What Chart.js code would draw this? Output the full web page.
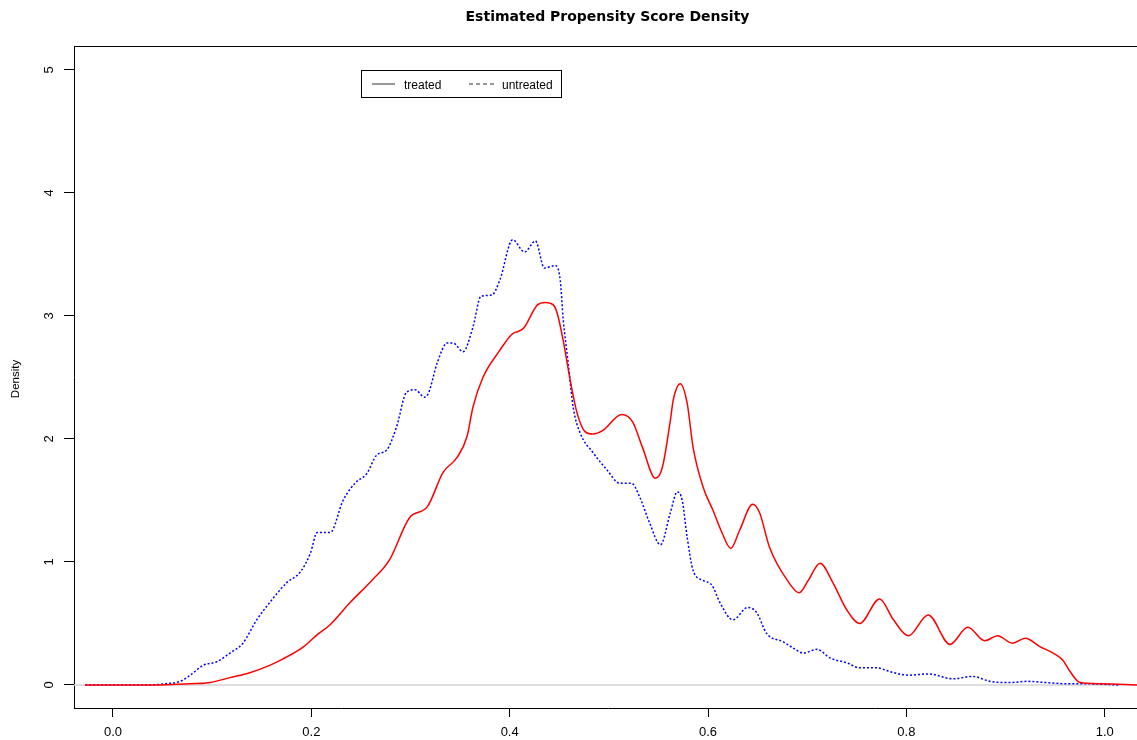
<!DOCTYPE html>
<html>
<head>
<meta charset="utf-8">
<script src="https://cdn.jsdelivr.net/npm/chart.js@4/dist/chart.umd.min.js"></script>
<style>
  html, body { margin: 0; padding: 0; background: #fff; overflow: hidden; width: 1137px; height: 740px; }
  canvas { display: block; }
</style>
</head>
<body>
<canvas id="c" width="1145" height="740"></canvas>
<script>
// Kernel density estimates of the propensity score, by group
const treatedX = [-0.028, 0.037, 0.078, 0.098, 0.118, 0.138, 0.158, 0.171, 0.192, 0.206, 0.219, 0.239, 0.261, 0.279, 0.299, 0.317, 0.333, 0.347, 0.357, 0.363, 0.373, 0.390, 0.402, 0.414, 0.428, 0.436, 0.444, 0.448, 0.454, 0.461, 0.468, 0.476, 0.484, 0.494, 0.513, 0.524, 0.534, 0.547, 0.554, 0.562, 0.565, 0.572, 0.579, 0.585, 0.595, 0.605, 0.614, 0.623, 0.632, 0.645, 0.652, 0.662, 0.680, 0.692, 0.701, 0.713, 0.726, 0.740, 0.753, 0.773, 0.787, 0.802, 0.822, 0.844, 0.862, 0.879, 0.892, 0.907, 0.920, 0.935, 0.948, 0.958, 0.965, 0.975, 0.995, 1.035];
const treatedY = [0, 0, 0.01, 0.02, 0.06, 0.10, 0.16, 0.21, 0.31, 0.41, 0.49, 0.67, 0.85, 1.02, 1.36, 1.45, 1.73, 1.85, 2.02, 2.26, 2.50, 2.72, 2.85, 2.90, 3.09, 3.11, 3.09, 3.02, 2.80, 2.48, 2.21, 2.06, 2.04, 2.07, 2.20, 2.14, 1.93, 1.68, 1.77, 2.15, 2.32, 2.45, 2.29, 1.93, 1.61, 1.42, 1.24, 1.11, 1.26, 1.47, 1.40, 1.12, 0.85, 0.75, 0.85, 0.99, 0.83, 0.61, 0.50, 0.70, 0.53, 0.40, 0.57, 0.33, 0.47, 0.36, 0.40, 0.34, 0.38, 0.31, 0.26, 0.20, 0.11, 0.02, 0.01, 0];

const untreatedX = [-0.028, 0.017, 0.037, 0.052, 0.068, 0.078, 0.091, 0.105, 0.118, 0.131, 0.145, 0.158, 0.175, 0.189, 0.199, 0.206, 0.219, 0.232, 0.244, 0.256, 0.266, 0.276, 0.286, 0.296, 0.305, 0.314, 0.318, 0.327, 0.337, 0.343, 0.353, 0.363, 0.371, 0.382, 0.390, 0.403, 0.415, 0.426, 0.435, 0.446, 0.451, 0.454, 0.459, 0.464, 0.471, 0.484, 0.498, 0.511, 0.523, 0.531, 0.541, 0.552, 0.562, 0.569, 0.574, 0.579, 0.585, 0.595, 0.604, 0.612, 0.625, 0.640, 0.649, 0.659, 0.676, 0.686, 0.696, 0.710, 0.723, 0.740, 0.753, 0.770, 0.783, 0.802, 0.822, 0.847, 0.867, 0.884, 0.905, 0.922, 0.940, 0.962, 0.978, 1.015];
const untreatedY = [0, 0, 0, 0.01, 0.03, 0.08, 0.16, 0.19, 0.26, 0.34, 0.53, 0.67, 0.83, 0.92, 1.07, 1.24, 1.24, 1.50, 1.64, 1.72, 1.87, 1.91, 2.10, 2.38, 2.40, 2.34, 2.37, 2.62, 2.78, 2.78, 2.71, 2.91, 3.16, 3.17, 3.29, 3.62, 3.52, 3.61, 3.39, 3.41, 3.29, 2.97, 2.62, 2.26, 2.05, 1.89, 1.75, 1.64, 1.64, 1.53, 1.32, 1.14, 1.40, 1.57, 1.50, 1.20, 0.93, 0.85, 0.81, 0.67, 0.53, 0.63, 0.59, 0.42, 0.35, 0.30, 0.26, 0.29, 0.22, 0.18, 0.14, 0.14, 0.11, 0.08, 0.09, 0.05, 0.07, 0.03, 0.02, 0.03, 0.02, 0.01, 0.01, 0];

const xTickValues = [0.0, 0.2, 0.4, 0.6, 0.8, 1.0];
const xTickLabels = ["0.0", "0.2", "0.4", "0.6", "0.8", "1.0"];
const yTickValues = [0, 1, 2, 3, 4, 5];
const yTickLabels = ["0", "1", "2", "3", "4", "5"];

const titleText = "Estimated Propensity Score Density";
const yTitleText = "Density";
const legendLabels = ["treated", "untreated"];

const FONT = '"Liberation Sans", Arial, sans-serif';
const TITLE_FONT = 'bold 14px "DejaVu Sans", Verdana, sans-serif';

const toPoints = (xs, ys) => xs.map((x, i) => ({ x: x, y: ys[i] }));

const decorations = {
  id: 'decorations',
  beforeDatasetsDraw(chart) {
    const { ctx, chartArea, scales } = chart;
    const y0 = scales.y.getPixelForValue(0);
    ctx.save();
    ctx.strokeStyle = '#d3d3d3';
    ctx.lineWidth = 1.5;
    ctx.beginPath();
    ctx.moveTo(chartArea.left, y0);
    ctx.lineTo(chartArea.right, y0);
    ctx.stroke();
    ctx.restore();
  },
  afterDraw(chart) {
    const { ctx, chartArea, scales } = chart;
    ctx.save();
    // top edge of the plot box
    ctx.strokeStyle = '#000';
    ctx.lineWidth = 1;
    ctx.beginPath();
    ctx.moveTo(chartArea.left, chartArea.top + 0.5);
    ctx.lineTo(chartArea.right, chartArea.top + 0.5);
    ctx.stroke();

    // title
    ctx.fillStyle = '#000';
    ctx.font = TITLE_FONT;
    ctx.textAlign = 'center';
    ctx.textBaseline = 'middle';
    ctx.fillText(titleText, 607.5, 17);

    // y tick labels, rotated as in base graphics
    ctx.font = '13px ' + FONT;
    yTickValues.forEach((v, i) => {
      const py = scales.y.getPixelForValue(v);
      ctx.save();
      ctx.translate(49, py);
      ctx.rotate(-Math.PI / 2);
      ctx.fillText(yTickLabels[i], 0, 0);
      ctx.restore();
    });

    // y axis title
    ctx.save();
    ctx.translate(16, 379);
    ctx.rotate(-Math.PI / 2);
    ctx.font = '11.5px ' + FONT;
    ctx.fillText(yTitleText, 0, 0);
    ctx.restore();

    // legend
    const lx = 361.5, ly = 70.5, lw = 200, lh = 27;
    ctx.fillStyle = '#fff';
    ctx.fillRect(lx, ly, lw, lh);
    ctx.strokeStyle = '#000';
    ctx.lineWidth = 1;
    ctx.strokeRect(lx, ly, lw, lh);
    const cy = ly + lh / 2;
    ctx.strokeStyle = '#333';
    ctx.beginPath();
    ctx.moveTo(372, cy); ctx.lineTo(395, cy);
    ctx.stroke();
    ctx.setLineDash([4, 3]);
    ctx.beginPath();
    ctx.moveTo(469, cy); ctx.lineTo(495, cy);
    ctx.stroke();
    ctx.setLineDash([]);
    ctx.fillStyle = '#000';
    ctx.font = '12px ' + FONT;
    ctx.textAlign = 'left';
    ctx.textBaseline = 'middle';
    ctx.fillText(legendLabels[0], 404, cy + 1.5);
    ctx.fillText(legendLabels[1], 502, cy + 1.5);
    ctx.restore();
  }
};

new Chart(document.getElementById('c'), {
  type: 'line',
  data: {
    datasets: [
      {
        label: legendLabels[0],
        data: toPoints(treatedX, treatedY),
        borderColor: '#ff0000',
        borderWidth: 1.5,
        pointRadius: 0,
        fill: false,
        cubicInterpolationMode: 'monotone'
      },
      {
        label: legendLabels[1],
        data: toPoints(untreatedX, untreatedY),
        borderColor: '#0000ff',
        borderWidth: 1.5,
        borderDash: [2, 2],
        pointRadius: 0,
        fill: false,
        cubicInterpolationMode: 'monotone'
      }
    ]
  },
  options: {
    responsive: false,
    animation: false,
    devicePixelRatio: 1,
    layout: { padding: { left: 0, top: 46, right: 3, bottom: 0 } },
    plugins: {
      legend: { display: false },
      title: { display: false },
      tooltip: { enabled: false }
    },
    scales: {
      x: {
        type: 'linear',
        min: -0.0393,
        max: 1.0376,
        afterBuildTicks(scale) { scale.ticks = xTickValues.map(v => ({ value: v })); },
        afterFit(scale) { scale.height = 32; },
        grid: { drawOnChartArea: false, drawTicks: true, tickLength: 9, tickColor: '#000', tickWidth: 1 },
        border: { display: true, color: '#000', width: 1 },
        ticks: {
          color: '#000',
          font: { family: FONT, size: 13 },
          padding: 8,
          maxRotation: 0,
          autoSkip: false,
          callback: (v) => xTickLabels[xTickValues.indexOf(v)]
        }
      },
      y: {
        type: 'linear',
        min: -0.187,
        max: 5.195,
        afterBuildTicks(scale) { scale.ticks = yTickValues.map(v => ({ value: v })); },
        afterFit(scale) { scale.width = 74; },
        grid: { drawOnChartArea: false, drawTicks: true, tickLength: 10, tickColor: '#000', tickWidth: 1 },
        border: { display: true, color: '#000', width: 1 },
        ticks: { display: false }
      }
    }
  },
  plugins: [decorations]
});
</script>
</body>
</html>
